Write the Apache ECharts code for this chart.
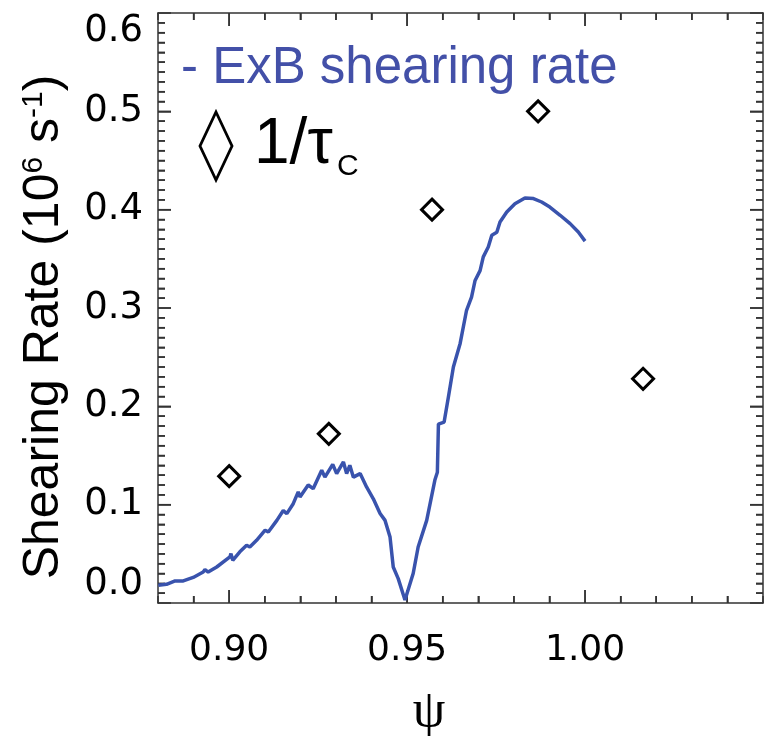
<!DOCTYPE html>
<html>
<head>
<meta charset="utf-8">
<script src="https://cdn.jsdelivr.net/npm/echarts@6/dist/echarts.min.js"></script>
<style>
  html, body { margin: 0; padding: 0; background: #fff; }
  #chart { width: 769px; height: 736px; }
</style>
</head>
<body>
<div id="chart"></div>
<script>
// ExB shearing rate profile versus normalized flux psi
const exbPsi = [0.8801,0.8824,0.8848,0.8871,0.8899,0.8927,0.8932,0.8941,0.8965,0.9002,0.9005,0.9010,
  0.9030,0.9049,0.9058,0.9077,0.9101,0.9110,0.9134,0.9152,0.9162,0.9180,0.9194,0.9199,0.9222,0.9236,
  0.9260,0.9269,0.9291,0.9302,0.9321,0.9330,0.9339,0.9349,0.9368,0.9386,0.9405,0.9424,0.9438,0.9452,
  0.9461,0.9475,0.9494,0.9517,0.9531,0.9555,0.9578,0.9585,0.9588,0.9604,0.9616,0.9630,0.9649,0.9667,
  0.9681,0.9691,0.9705,0.9714,0.9728,0.9738,0.9752,0.9761,0.9780,0.9803,0.9831,0.9855,0.9878,0.9901,
  0.9930,0.9958,0.9981,1.0000];
const exbRate = [0.018,0.019,0.0224,0.0224,0.026,0.0315,0.034,0.0315,0.0366,0.0468,0.0502,0.0434,
  0.052,0.0587,0.057,0.0638,0.074,0.0722,0.084,0.094,0.0909,0.101,0.113,0.1078,0.12,0.1163,
  0.135,0.128,0.141,0.1316,0.1434,0.1316,0.14,0.128,0.1316,0.118,0.106,0.091,0.084,0.067,
  0.0366,0.0248,0.003,0.03,0.057,0.084,0.125,0.133,0.182,0.184,0.2095,0.24,0.264,0.2977,
  0.311,0.328,0.338,0.352,0.362,0.374,0.377,0.3875,0.3976,0.406,0.4119,0.4113,0.4078,0.4027,
  0.3943,0.3858,0.3773,0.368];

// inverse decorrelation time 1/tau_c
const tauPsi = [0.900, 0.928, 0.957, 0.9868, 1.0163];
const tauRate = [0.129, 0.172, 0.400, 0.500, 0.228];

// axis ranges and labelled ticks
const xMajorTicks = [0.90, 0.95, 1.00];
const xMin = 0.88, xMax = 1.05;
const yMin = 0, yMax = 0.6;

const axisColor = '#333';
const blue = '#3953ad';
const labelFont = 'DejaVu Sans';
const MINOR_LEN = 7, MAJOR_LEN = 13;

function sty() { return { color: axisColor, width: 1.5 }; }

function xAxisBase(position, withLabels, major) {
  const ax = {
    type: 'value', position: position, min: xMin, max: xMax, interval: 0.01,
    axisLine: { show: !major, onZero: false, lineStyle: sty() },
    axisTick: { show: true, inside: true, length: major ? MAJOR_LEN : MINOR_LEN, lineStyle: sty() },
    splitLine: { show: false },
    axisLabel: { show: false }
  };
  if (major) ax.axisTick.customValues = xMajorTicks;
  if (withLabels) {
    ax.axisLabel = {
      show: true, color: '#000', fontSize: 36, fontFamily: labelFont, margin: 30,
      formatter: function (v) {
        const r = Math.round(v * 100);
        return xMajorTicks.some(function (m) { return Math.round(m * 100) === r; }) ? v.toFixed(2) : '';
      }
    };
  }
  return ax;
}

function yAxisBase(position, withLabels) {
  return {
    type: 'value', position: position, min: yMin, max: yMax, interval: 0.1,
    axisLine: { show: true, onZero: false, lineStyle: sty() },
    axisTick: { show: true, inside: true, length: MAJOR_LEN, lineStyle: sty() },
    minorTick: { show: true, splitNumber: 10, length: MINOR_LEN, lineStyle: sty() },
    splitLine: { show: false },
    minorSplitLine: { show: false },
    axisLabel: withLabels ? {
      show: true, color: '#000', fontSize: 37, fontFamily: labelFont, margin: 15,
      formatter: function (v) { return v.toFixed(1); },
      verticalAlignMinLabel: 'bottom', verticalAlignMaxLabel: 'top'
    } : { show: false }
  };
}

// frame tick marks: [value, side (0 bottom, 1 top, 2 left, 3 right), length]
const frameTicks = [];
for (let k = 89; k <= 104; k++) {
  const isMajor = (k === 90 || k === 95 || k === 100);
  const len = isMajor ? MAJOR_LEN : MINOR_LEN;
  frameTicks.push([k / 100, 0, len], [k / 100, 1, len]);
}
for (let k = 1; k <= 59; k++) {
  const len = (k % 10 === 0) ? MAJOR_LEN : MINOR_LEN;
  frameTicks.push([k / 100, 2, len], [k / 100, 3, len]);
}

function renderTick(params, api) {
  const v = api.value(0), side = api.value(1), len = api.value(2);
  let p, q;
  if (side === 0) { p = api.coord([v, yMin]); q = [p[0], p[1] - len]; }
  else if (side === 1) { p = api.coord([v, yMax]); q = [p[0], p[1] + len]; }
  else if (side === 2) { p = api.coord([xMin, v]); q = [p[0] + len, p[1]]; }
  else { p = api.coord([xMax, v]); q = [p[0] - len, p[1]]; }
  return {
    type: 'line',
    shape: { x1: p[0], y1: p[1], x2: q[0], y2: q[1] },
    style: { stroke: axisColor, lineWidth: 1.5 }
  };
}

const chart = echarts.init(document.getElementById('chart'), null, { renderer: 'canvas' });

const option = {
  animation: false,
  backgroundColor: '#fff',
  grid: { left: 158, top: 13, width: 605, height: 590 },
  xAxis: [
    xAxisBase('bottom', true, false),
    xAxisBase('bottom', false, true),
    xAxisBase('top', false, false),
    xAxisBase('top', false, true)
  ],
  yAxis: [
    yAxisBase('left', true),
    yAxisBase('right', false)
  ],
  series: [
    {
      type: 'custom', xAxisIndex: 0, yAxisIndex: 0, silent: true,
      renderItem: renderTick, data: frameTicks, z: 2
    },
    {
      type: 'line', xAxisIndex: 0, yAxisIndex: 0,
      showSymbol: false, symbol: 'none',
      data: exbPsi.map(function (p, i) { return [p, exbRate[i]]; }),
      lineStyle: { color: blue, width: 3.5 }, z: 3
    },
    {
      type: 'scatter', xAxisIndex: 0, yAxisIndex: 0,
      symbol: 'diamond', symbolSize: 21,
      data: tauPsi.map(function (p, i) { return [p, tauRate[i]]; }),
      itemStyle: { color: '#fff', borderColor: '#000', borderWidth: 3, opacity: 1 }, z: 4
    }
  ],
  graphic: [
    {
      type: 'text', left: 181, top: 43,
      style: { text: '- ExB shearing rate', fill: '#4350a8', font: '51px "Liberation Sans", Arial, sans-serif' }
    },
    {
      type: 'polygon',
      shape: { points: [[216, 112], [232, 146], [216, 180], [200, 146]] },
      style: { fill: 'none', stroke: '#000', lineWidth: 2.8 }
    },
    {
      type: 'text', left: 254, top: 113,
      style: { text: '1/τ', fill: '#000', font: '64px "Liberation Sans", Arial, sans-serif' }
    },
    {
      type: 'text', left: 337, top: 152,
      style: { text: 'C', fill: '#000', font: '30px "Liberation Sans", Arial, sans-serif' }
    },
    {
      type: 'text', x: 44, y: 327, rotation: Math.PI / 2,
      style: {
        text: 'Shearing Rate (10{sup|6} s{sup|-1})',
        fill: '#000', font: '50px "Liberation Sans", Arial, sans-serif',
        align: 'center', verticalAlign: 'middle',
        rich: {
          sup: { fontSize: 30, fontFamily: '"Liberation Sans", Arial, sans-serif', fill: '#000', verticalAlign: 'top', lineHeight: 50 }
        }
      }
    },
    {
      type: 'text', x: 429, y: 712,
      style: { text: 'ψ', fill: '#000', font: '52px "Liberation Serif", "DejaVu Serif", serif', align: 'center', verticalAlign: 'middle' }
    }
  ]
};

chart.setOption(option);
</script>
</body>
</html>
